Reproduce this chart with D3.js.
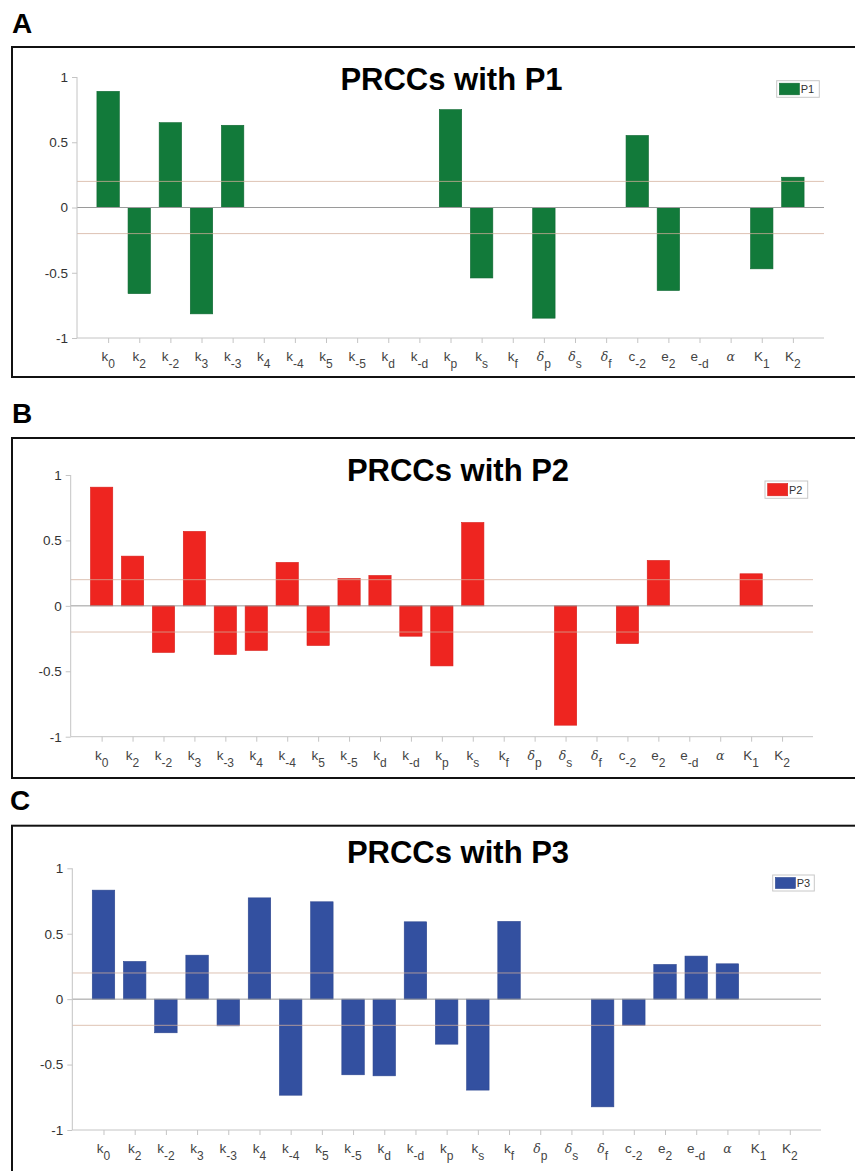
<!DOCTYPE html>
<html><head><meta charset="utf-8">
<script src="https://cdn.jsdelivr.net/npm/d3@7"></script>
<style>body{margin:0;background:#fff}svg{display:block}</style>
</head><body>
<script>
// ---- data ----
const paramBase = ["k","k","k","k","k","k","k","k","k","k","k","k","k","k","δ","δ","δ","c","e","e","α","K","K"];
const paramSub  = ["0","2","-2","3","-3","4","-4","5","-5","d","-d","p","s","f","p","s","f","-2","2","-d","","1","2"];
const yTicks = [-1, -0.5, 0, 0.5, 1];
const yTickLabels = ["-1","-0.5","0","0.5","1"];
const thresholds = [0.2, -0.2];
const prccP1 = [0.89,-0.66,0.65,-0.815,0.63,0,0,0,0,0,0,0.75,-0.54,0,-0.848,0,0,0.552,-0.636,0,0,-0.47,0.232];
const prccP2 = [0.907,0.38,-0.356,0.569,-0.372,-0.341,0.332,-0.303,0.209,0.232,-0.232,-0.459,0.637,0,0,-0.912,0,-0.288,0.347,0,0,0.245,0];
const prccP3 = [0.833,0.288,-0.257,0.336,-0.204,0.774,-0.734,0.744,-0.578,-0.586,0.591,-0.344,-0.695,0.594,0,0,-0.823,-0.201,0.265,0.329,0.27,0,0];
const panelLetters = ["A","B","C"];
const seriesNames = ["P1","P2","P3"];
const titles = ["PRCCs with P1","PRCCs with P2","PRCCs with P3"];

// ---- layout ----
const panels = [
  {letter:panelLetters[0], name:seriesNames[0], title:titles[0], values:prccP1, color:"#127a3a", stroke:"#0d6630",
   box:[12,47,870,377], letterY:33, letterX:12, ax:[77,824,77,338], titleX:451.5, titleY:90, leg:[776.7,80.7,42.6,16.6]},
  {letter:panelLetters[1], name:seriesNames[1], title:titles[1], values:prccP2, color:"#ee2520", stroke:"#d81e1a",
   box:[12,438,870,778], letterY:423, letterX:12, ax:[70.7,813,475,736.7], titleX:458, titleY:481, leg:[765,481,42.7,17.3]},
  {letter:panelLetters[2], name:seriesNames[2], title:titles[2], values:prccP3, color:"#3350a0", stroke:"#2c468f",
   box:[12,825.7,870,1185], letterY:810, letterX:10, ax:[72.3,821,868.3,1130], titleX:458, titleY:863, leg:[772.7,875,41.6,16]}
];

const svg = d3.select("body").append("svg").attr("width",855).attr("height",1171);
const sans = "'Liberation Sans', Arial, Helvetica, sans-serif";

panels.forEach(p => {
  const g = svg.append("g");
  g.append("text").attr("x",p.letterX).attr("y",p.letterY).text(p.letter)
    .attr("font-family",sans).attr("font-weight","bold").attr("font-size",28).attr("fill","#000");
  g.append("rect").attr("x",p.box[0]).attr("y",p.box[1]).attr("width",p.box[2]-p.box[0]).attr("height",p.box[3]-p.box[1])
    .attr("fill","none").attr("stroke","#111").attr("stroke-width",2);

  const [x0,x1,yT,yB] = p.ax;
  const x = d3.scaleLinear().domain([0,24]).range([x0,x1]);
  const y = d3.scaleLinear().domain([-1,1]).range([yB,yT]);
  const bw = (x(1)-x(0))*0.72;

  g.selectAll("rect.bar").data(p.values).join("rect").attr("class","bar")
    .attr("x",(d,i)=>x(i+1)-bw/2).attr("width",bw)
    .attr("y",d=>y(Math.max(0,d))).attr("height",d=>Math.abs(y(d)-y(0)))
    .attr("fill",p.color).attr("stroke",p.stroke).attr("stroke-width",0.6);

  g.append("line").attr("x1",x0).attr("x2",x1).attr("y1",y(0)).attr("y2",y(0))
    .attr("stroke","#9a9a9a").attr("stroke-width",1);
  thresholds.forEach(t => g.append("line").attr("x1",x0).attr("x2",x1).attr("y1",y(t)).attr("y2",y(t))
    .attr("stroke","#d2ad9a").attr("stroke-opacity",0.75).attr("stroke-width",1));

  const ya = d3.axisLeft(y).tickValues(yTicks).tickFormat((d,i)=>yTickLabels[i]).tickSize(5).tickPadding(4);
  const yg = g.append("g").attr("transform",`translate(${x0},0)`).call(ya);
  yg.select(".domain").attr("stroke","#c4c4c4").attr("d",`M0,${yT}V${yB}`);
  yg.selectAll(".tick line").attr("stroke","#c4c4c4");
  yg.selectAll(".tick text").attr("font-family",sans).attr("font-size",13.5).attr("fill","#333");

  const xa = d3.axisBottom(x).tickValues(d3.range(1,24)).tickFormat("").tickSize(5);
  const xg = g.append("g").attr("transform",`translate(0,${yB})`).call(xa);
  xg.select(".domain").attr("stroke","#c4c4c4").attr("d",`M${x0},0H${x1}`);
  xg.selectAll(".tick line").attr("stroke","#c4c4c4");
  paramBase.forEach((b,i) => {
    const greek = (b==="δ"||b==="α");
    const t = g.append("text").attr("x",x(i+1)).attr("y",yB+23).attr("text-anchor","middle")
      .attr("font-family",sans).attr("font-size",13.5).attr("fill","#444");
    t.append("tspan").text(b)
      .attr("font-family", greek ? "'DejaVu Serif', 'Liberation Serif', serif" : sans)
      .attr("font-style", greek ? "italic" : "normal")
      .attr("font-size", greek ? 12.5 : 13.5);
    if (paramSub[i]) t.append("tspan").text(paramSub[i]).attr("dy",7).attr("font-size",12);
  });

  g.append("text").attr("x",p.titleX).attr("y",p.titleY).attr("text-anchor","middle").text(p.title)
    .attr("font-family",sans).attr("font-weight","bold").attr("font-size",31).attr("fill","#000");

  const [lx,ly,lw,lh] = p.leg;
  g.append("rect").attr("x",lx).attr("y",ly).attr("width",lw).attr("height",lh)
    .attr("fill","#fff").attr("stroke","#c8c8c8").attr("stroke-width",1);
  g.append("rect").attr("x",lx+2.7).attr("y",ly+2.5).attr("width",20).attr("height",lh-5)
    .attr("fill",p.color).attr("stroke",p.stroke).attr("stroke-width",0.6);
  g.append("text").attr("x",lx+24).attr("y",ly+lh/2+4).text(p.name)
    .attr("font-family",sans).attr("font-size",11).attr("fill","#333");
});
</script>
</body></html>
